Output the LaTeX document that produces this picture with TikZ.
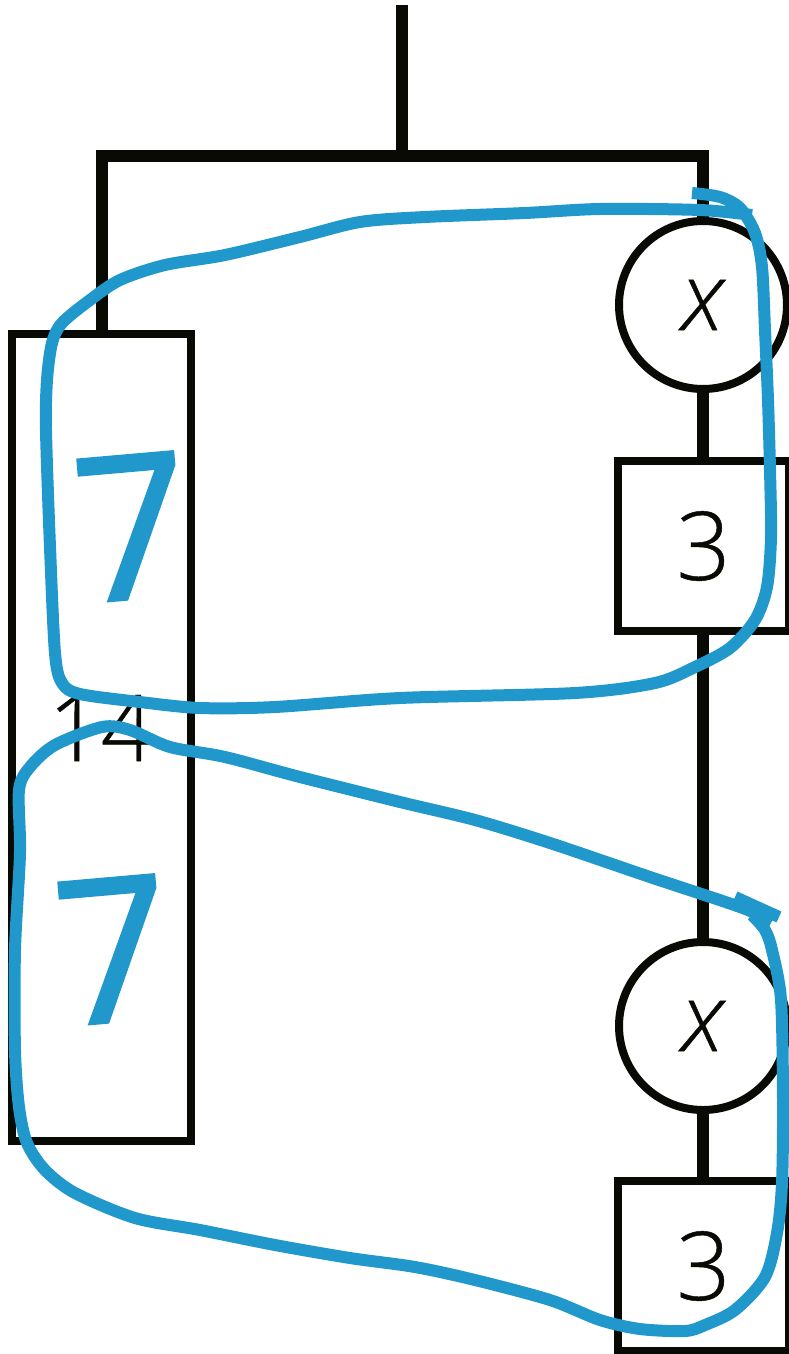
\documentclass[tikz,border=0pt]{standalone}
\usepackage{fontspec}
\setmainfont[FakeBold=0.5]{Open Sans Light}
\newfontfamily\sevenfont[FakeBold=1.6]{Open Sans}
\definecolor{loopblue}{HTML}{2098CC}
\definecolor{inkblack}{HTML}{0A0A05}
\tikzset{
  wire/.style={line width=12pt,inkblack},
  boxthin/.style={draw=inkblack,text=inkblack,line width=8pt,fill=white,inner sep=0pt},
  squarebox/.style={boxthin,minimum width=171pt,minimum height=170pt,font=\fontsize{95}{95}\selectfont},
  circlebox/.style={boxthin,circle,minimum size=168pt,font=\fontsize{95}{95}\selectfont},
  loopline/.style={draw=loopblue,line width=12pt,line join=round},
  bigseven/.style={text=loopblue,inner sep=0pt,font=\sevenfont\fontsize{200}{200}\selectfont},
}
\begin{document}
\begin{tikzpicture}[x=1pt,y=-1pt]
\useasboundingbox (0,0) rectangle (788,1354);
\coordinate (top) at (402,5);
\coordinate (junction) at (402,156);
\coordinate (cornerL) at (102,156);
\coordinate (cornerR) at (703,156);
\node[boxthin,minimum width=179pt,minimum height=807pt] (big) at (101.5,737.5) {};
\node[circlebox] (x1) at (703,305) {\itshape x};
\node[squarebox] (s1) at (703.5,546) {3};
\node[circlebox] (x2) at (703,1026) {\itshape x};
\node[squarebox] (s2) at (703.5,1266) {3};
\draw[wire] (top) -- (junction);
\draw[wire,line cap=rect] (big.north -| cornerL) -- (cornerL) -- (cornerR) -- (x1.north);
\draw[wire] (x1.south) -- (x1.south |- s1.north);
\draw[wire] (x1.south |- s1.south) -- (x2.north);
\draw[wire] (x2.south) -- (x2.south |- s2.north);
\node[font=\fontsize{92}{92}\selectfont,text=inkblack,inner sep=0pt] (fourteen) at (101,728) {14};
\node[bigseven,rotate=5] (seven1) at (132,527) {7};
\node[bigseven,rotate=5] (seven2) at (113,950) {7};
% upper loop
\draw[loopline] plot[smooth,tension=0.5] coordinates {
(692,193) (720,197) (740,208) (755,233) (762,267) (765,330) (768,400) (770,470) (771,537) (767,587) (755,620)
(730,648) (695,667) (655,683) (575,693) (400,698) (275,707) (200,708) (140,702)
(80,694) (62,683) (55,653) (50,547) (46,430) (47,380) (52,343) (62,323) (90,300) (120,280) (165,265)
(225,255) (300,237) (360,222) (425,217) (525,213) (600,209) (700,210) (752,215)};
% lower loop
\draw[loopline] plot[smooth,tension=0.5] coordinates {(735,897) (779,917)}
plot[smooth,tension=0.5] coordinates {
(752,915) (765,930) (772,950) (781,1000) (783,1100) (782,1183) (777,1233) (765,1277) (735,1310) (705,1325)
(685,1331) (640,1329) (600,1320) (550,1300) (475,1280) (415,1267) (350,1258) (275,1245) (200,1230)
(135,1218) (75,1193) (45,1170) (27,1143) (19,1107) (15,1050) (15,950) (20,853) (19,790) (30,767)
(55,745) (102,727) (130,730) (170,747) (225,757) (300,777) (400,802) (475,820) (550,843) (650,877) (740,907) (772,921)};
\end{tikzpicture}
\end{document}
